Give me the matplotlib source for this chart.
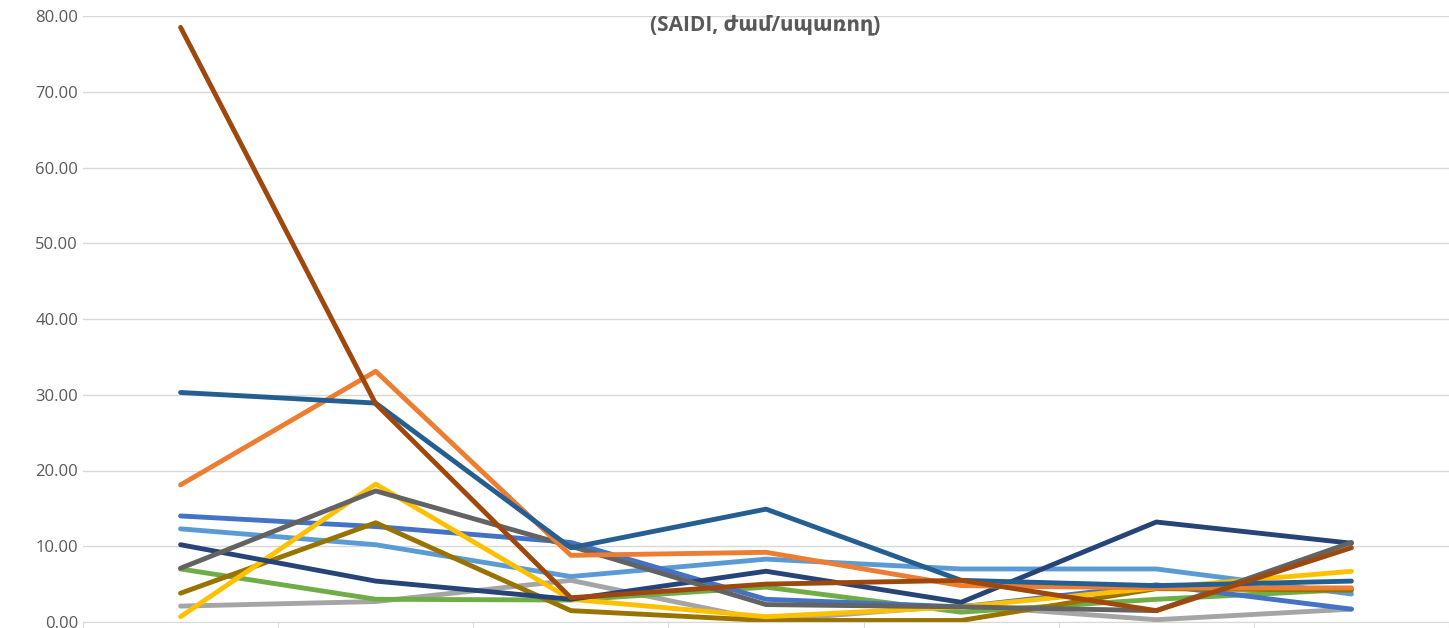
import matplotlib
matplotlib.use('Agg')
import matplotlib.pyplot as plt
from matplotlib.ticker import FormatStrFormatter

plt.rcParams['font.family'] = ['Open Sans', 'DejaVu Sans']

categories = list(range(7))

brown = [78.5, 28.8, 3.2, 5.0, 5.5, 1.5, 9.8]
dark_blue = [30.3, 28.9, 9.8, 14.9, 5.5, 4.8, 5.4]
orange = [18.1, 33.1, 8.8, 9.2, 4.8, 4.5, 4.5]
blue = [14.0, 12.6, 10.5, 3.0, 2.0, 4.9, 1.7]
light_blue = [12.3, 10.2, 6.0, 8.3, 7.0, 7.0, 3.7]
dark_gray = [7.1, 17.3, 10.0, 2.3, 2.0, 1.5, 10.5]
yellow = [0.7, 18.2, 3.0, 0.7, 2.0, 4.5, 6.7]
navy = [10.2, 5.4, 3.0, 6.7, 2.6, 13.2, 10.4]
green = [7.0, 3.0, 2.9, 4.6, 1.3, 3.0, 4.3]
light_gray = [2.1, 2.7, 5.5, 0.2, 2.2, 0.3, 1.7]
olive = [3.8, 13.1, 1.5, 0.2, 0.2, 4.4, 4.2]

series = [
    (light_gray, '#A5A5A5'), (green, '#70AD47'), (light_blue, '#5B9BD5'),
    (blue, '#4472C4'), (olive, '#997300'), (yellow, '#FFC000'),
    (navy, '#264478'), (dark_gray, '#636363'), (orange, '#ED7D31'),
    (dark_blue, '#255E91'), (brown, '#9E480E'),
]

fig = plt.figure(figsize=(14.49, 6.28), dpi=100)
ax = fig.add_axes([83 / 1449, 6 / 628, 1 - 83 / 1449, 606 / 628])

for vals, col in series:
    ax.plot(categories, vals, color=col, linewidth=3.5, solid_capstyle='round')

ax.set_xlim(-0.5, 6.5)
ax.set_ylim(0, 80)
ax.set_yticks(range(0, 81, 10))
ax.yaxis.set_major_formatter(FormatStrFormatter('%.2f'))
ax.set_xticks([i - 0.5 for i in range(8)])
ax.set_xticklabels([])
ax.tick_params(axis='x', length=6, color='#D9D9D9', direction='out')
ax.tick_params(axis='y', length=0, labelsize=12, labelcolor='#595959')
ax.grid(axis='y', color='#D9D9D9', linewidth=1)
ax.set_axisbelow(True)
for s in ['top', 'right', 'left']:
    ax.spines[s].set_visible(False)
ax.spines['bottom'].set_color('#D9D9D9')

fig.text(0.528, 0.96, '(SAIDI, ժամ/սպառող)', ha='center', va='center',
         fontsize=15, fontweight='bold', color='#595959')

fig.savefig('out.png', dpi=100)
